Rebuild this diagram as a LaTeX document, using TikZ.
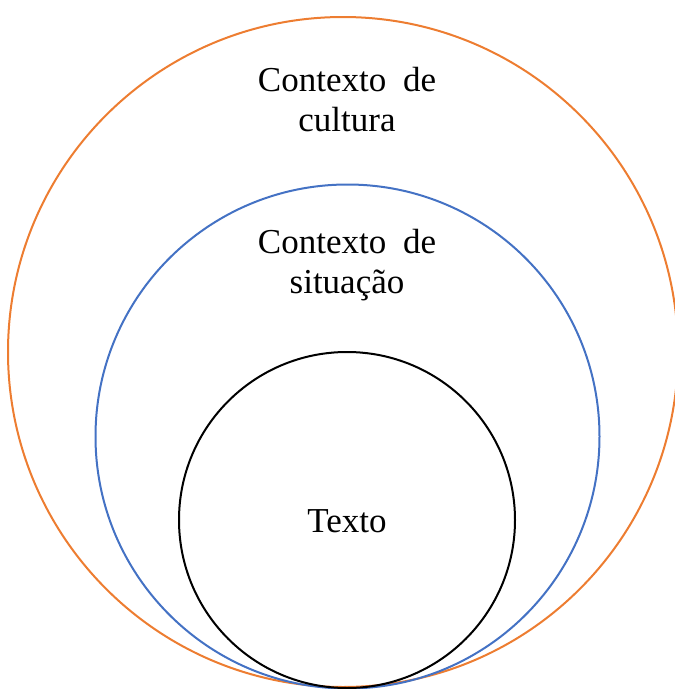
\documentclass[tikz,border=0pt]{standalone}
\usepackage{fontspec}
\setmainfont{Liberation Serif}
\definecolor{laranja}{HTML}{ED7D31}
\definecolor{azul}{HTML}{4472C4}
\tikzset{
  rotulo/.style={align=center, font=\fontsize{35}{40}\selectfont, inner sep=0pt},
  anel/.style={line width=2pt}
}

\begin{document}
\begin{tikzpicture}[x=1pt, y=-1pt]
    \useasboundingbox (0,0) rectangle (675,689);

    % Circles
    \draw[anel, laranja] (343,352) circle (335);
    \draw[anel, azul] (347.5,436.5) circle (252);
    \draw[anel, black] (347,520) circle (168);

    % Labels
    \node[rotulo] (cultura) at (347,100) {Contexto\hspace{8pt} de\\cultura};
    \node[rotulo] (situacao) at (347,265) {Contexto\hspace{8pt} de\\situação};
    \node[rotulo] (texto) at (347,521) {Texto};
\end{tikzpicture}
\end{document}
